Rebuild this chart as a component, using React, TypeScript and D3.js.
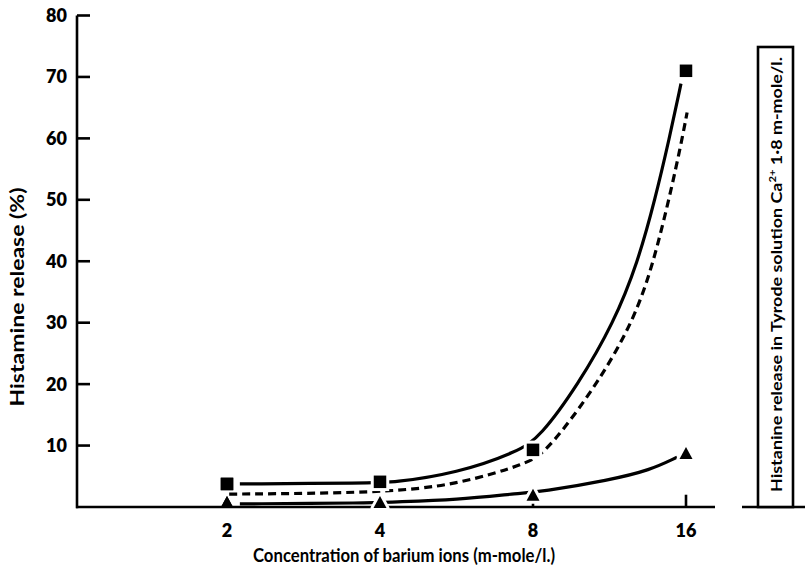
import React from "react";
import * as d3 from "d3";

// Concentration ticks (m-mole/l.)
const xTicks = [2, 4, 8, 16];
const yTicks = [10, 20, 30, 40, 50, 60, 70, 80];

// Marker values (histamine release %)
const squareMarkers: [number, number][] = [[2, 3.75], [4, 4.1], [8, 9.3], [16, 71.0]];
const triangleMarkers: [number, number][] = [[2, 0.8], [4, 0.8], [8, 2.0], [16, 8.8]];

// Curves (concentration, %)
const solidSquareCurve: [number, number][] = [
  [2.12, 3.75], [3.82, 3.9], [4.22, 3.95], [5.67, 5.5], [7.47, 9.0], [8.26, 11.4],
  [9.81, 19.9], [11.54, 30.0], [12.87, 39.9], [13.9, 50.0], [14.84, 60.0], [15.64, 68.9],
];
const dashedCurve: [number, number][] = [
  [2.02, 2.1], [4.03, 2.3], [5.67, 3.6], [7.89, 7.2], [8.33, 8.8], [8.96, 11.4],
  [10.74, 20.2], [12.75, 30.9], [14.05, 41.9], [15.43, 56.5], [16.08, 64.2],
];
const triangleCurve: [number, number][] = [
  [2.12, 0.5], [3.86, 0.65], [4.17, 0.8], [5.67, 1.15], [7.61, 2.3], [8.26, 2.45],
  [11.34, 4.4], [13.6, 6.0], [15.36, 8.1],
];
// small vertical mark on the axis at 16
const markAt16: [number, number] = [16, 2.0];

const FONT = "Lato, 'Open Sans', sans-serif";

export default function App() {
  const x = d3.scaleLog().base(2).domain([2, 16]).range([227, 686]);
  const y = d3.scaleLinear().domain([0, 80]).range([507, 15.5]);
  const line = d3
    .line<[number, number]>()
    .x((d) => x(d[0]))
    .y((d) => y(d[1]))
    .curve(d3.curveBasis);

  const sq = 12.5;
  const triPath = (cx: number, cy: number) => {
    const w = 13, h = 12;
    return `M${cx},${cy - h / 2}L${cx + w / 2},${cy + h / 2}L${cx - w / 2},${cy + h / 2}Z`;
  };

  return (
    <svg width={805} height={572} style={{ position: "absolute", left: 0, top: 0, background: "#fff" }}>
      <rect x={0} y={0} width={805} height={572} fill="#fff" />
      {/* y axis */}
      <line x1={77} x2={77} y1={y(80)} y2={y(0) + 1.2} stroke="#000" strokeWidth={2.6} />
      {yTicks.map((t) => (
        <g key={t}>
          <line x1={77} x2={90} y1={y(t)} y2={y(t)} stroke="#000" strokeWidth={2.6} />
          <text x={67} y={y(t) + 6.5} textAnchor="end" fontFamily={FONT} fontWeight={800} fontSize={18}>
            {t}
          </text>
        </g>
      ))}
      {/* baseline */}
      <line x1={76} x2={715} y1={y(0)} y2={y(0)} stroke="#000" strokeWidth={2.6} />
      <line x1={742} x2={805} y1={y(0)} y2={y(0)} stroke="#000" strokeWidth={2.6} />
      {xTicks.map((t) => (
        <text key={t} x={x(t)} y={537} textAnchor="middle" fontFamily={FONT} fontWeight={800} fontSize={18}>
          {t}
        </text>
      ))}
      <text x={404} y={562} textAnchor="middle" fontFamily={FONT} fontWeight={700} fontSize={18} textLength={302} lengthAdjust="spacingAndGlyphs">
        Concentration of barium ions (m-mole/l.)
      </text>
      <text transform="translate(24,297) rotate(-90)" textAnchor="middle" fontFamily={FONT} fontWeight={700} fontSize={18} textLength={219} lengthAdjust="spacingAndGlyphs">
        Histamine release (%)
      </text>

      {/* curves */}
      <path d={line(solidSquareCurve) || ""} fill="none" stroke="#000" strokeWidth={3.2} />
      <path d={line(dashedCurve) || ""} fill="none" stroke="#000" strokeWidth={3.2} strokeDasharray="8,5" />
      <path d={line(triangleCurve) || ""} fill="none" stroke="#000" strokeWidth={3.2} />

      {/* mark at 16 */}
      <line x1={x(markAt16[0])} x2={x(markAt16[0])} y1={y(0)} y2={y(markAt16[1])} stroke="#000" strokeWidth={2.6} />
      {/* stem below triangle at 8 */}
      <line x1={x(8)} x2={x(8)} y1={y(0)} y2={y(triangleMarkers[2][1])} stroke="#000" strokeWidth={2.6} />

      {/* markers with white halo */}
      {squareMarkers.map(([c, v], i) => (
        <rect key={"s" + i} x={x(c) - sq / 2} y={y(v) - sq / 2} width={sq} height={sq} fill="#000" stroke="#fff" strokeWidth={i === 0 ? 0 : 6} />
      ))}
      {squareMarkers.map(([c, v], i) => (
        <rect key={"s2" + i} x={x(c) - sq / 2} y={y(v) - sq / 2} width={sq} height={sq} fill="#000" />
      ))}
      {triangleMarkers.map(([c, v], i) => (
        <path key={"t" + i} d={triPath(x(c), y(v))} fill="#000" stroke="#fff" strokeWidth={i === 0 ? 0 : 6} strokeLinejoin="round" />
      ))}
      {triangleMarkers.map(([c, v], i) => (
        <path key={"t2" + i} d={triPath(x(c), y(v))} fill="#000" />
      ))}

      {/* side box */}
      <rect x={758} y={47} width={35} height={y(0) - 47} fill="#fff" stroke="#000" strokeWidth={2.6} />
      <text transform="translate(781.5,274.5) rotate(-90)" textAnchor="middle" fontFamily={FONT} fontWeight={700} fontSize={16} textLength={435} lengthAdjust="spacingAndGlyphs">
        Histanine release in Tyrode solution Ca
        <tspan fontSize={10} dy={-6}>2+</tspan>
        <tspan dy={6}> 1·8 m-mole/l.</tspan>
      </text>
    </svg>
  );
}
